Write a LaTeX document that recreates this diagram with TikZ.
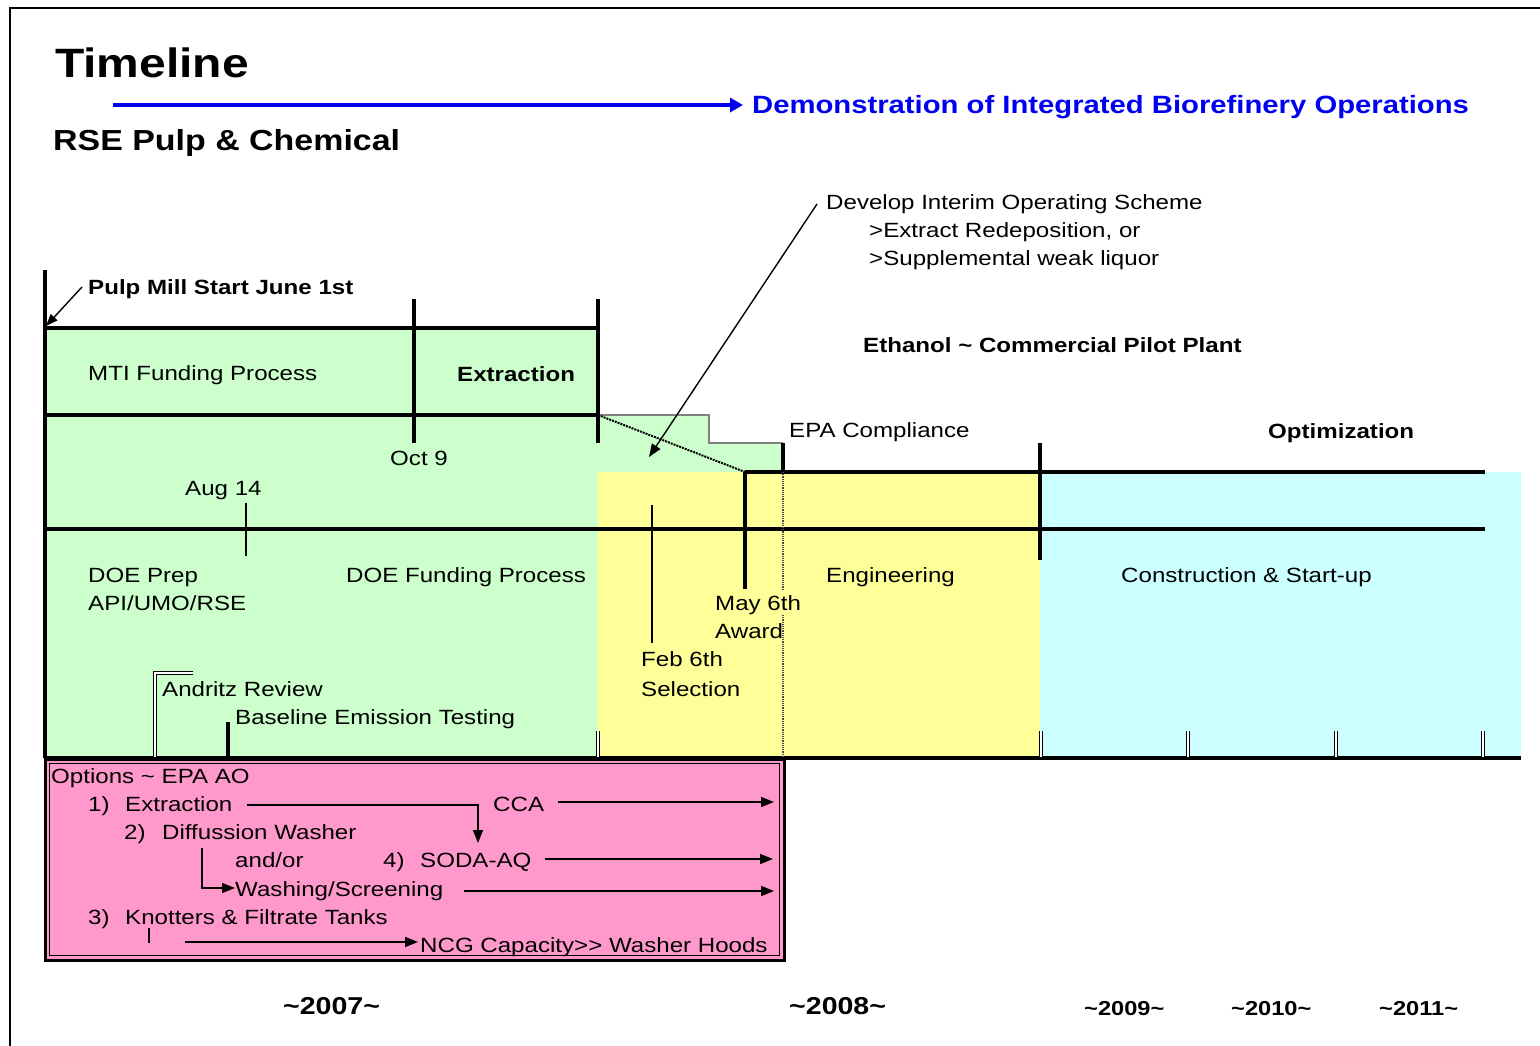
\documentclass[tikz,border=0pt]{standalone}
\usepackage{fontspec}
\setmainfont{Liberation Sans}[FakeStretch=1.17]
\usetikzlibrary{arrows.meta}
\definecolor{pgreen}{HTML}{CCFFCC}
\definecolor{pyellow}{HTML}{FFFF99}
\definecolor{pcyan}{HTML}{CCFFFF}
\definecolor{ppink}{HTML}{FF99CC}
\definecolor{dblue}{HTML}{0000F0}
\begin{document}
\begin{tikzpicture}[x=1pt,y=-1pt,
  txt/.style={anchor=base west, inner sep=0pt, font=\fontsize{20.6}{24}\selectfont},
  btxt/.style={anchor=base west, inner sep=0pt, font=\fontsize{20.6}{24}\selectfont\bfseries},
  heavy/.style={line width=3.5pt},
  slim/.style={line width=2pt},
  dbl/.style={double, double distance=1.8pt, line width=1.1pt},
  arr/.style={line width=1.6pt, -{Triangle[length=13pt,width=10pt]}},
]
\useasboundingbox (0,0) rectangle (1540,1046);
% frame
\draw[line width=2pt] (10,1046) -- (10,8) -- (1540,8);

% title block
\node[anchor=base west, inner sep=0pt, font=\fontsize{41}{45}\selectfont\bfseries] (title) at (55,78) {Timeline};
\node[anchor=base west, inner sep=0pt, font=\fontsize{29}{32}\selectfont\bfseries] (rse) at (53,151) {RSE Pulp \& Chemical};
\node[anchor=base west, inner sep=0pt, text=dblue, font=\fontsize{25}{28}\selectfont\bfseries] (demo) at (752,114) {Demonstration of Integrated Biorefinery Operations};
\coordinate (bstart) at (113,105);
\coordinate (bend) at (743,105);
\draw[dblue, line width=4.5pt, -{Triangle[length=13pt,width=14pt]}] (bstart) -- (bend);

% fills
\fill[pgreen] (45,328) -- (598,328) -- (598,415) -- (709,415) -- (709,443) -- (783,443) -- (783,472) -- (598,472) -- (598,758) -- (45,758) -- cycle;
\fill[pyellow] (598,472) rectangle (1040,758);
\fill[pcyan] (1040,472) rectangle (1521,758);
\draw[gray, line width=1.2pt] (598,415) -- (709,415) -- (709,443) -- (783,443);

% pink box
\fill[ppink] (45,759) rectangle (784,960);
\draw[line width=3pt] (45,759) rectangle (784,960);
\draw[line width=1pt] (49.5,763) rectangle (779.5,955.5);

% structure lines
\draw[heavy] (45,328) -- (598,328);
\draw[heavy] (45,415) -- (598,415);
\draw[heavy] (45,529) -- (1485,529);
\draw[heavy] (745,472) -- (1485,472);
\draw[heavy] (44,758) -- (1521,758);
\draw[heavy] (45,270) -- (45,758);
\draw[heavy] (414,299) -- (414,443);
\draw[heavy] (598,299) -- (598,443);
\draw[heavy] (745,472) -- (745,589);
\draw[heavy] (783,443) -- (783,472);
\draw[heavy] (1040,443) -- (1040,560);
\draw[slim] (652,505) -- (652,643);
\draw[slim] (246,503) -- (246,556);
\draw[line width=4pt] (228,722) -- (228,758);
\draw[densely dotted, line width=1.2pt, black!70] (783,472) -- (783,589);
\draw[densely dotted, line width=1.2pt, black!70] (783,615) -- (783,758);
\draw[densely dotted, line width=2pt] (598,415) -- (745,472);
\foreach \xx in {598,1041,1188,1336,1483}
  \draw[dbl] (\xx,731) -- (\xx,757);
\draw[dbl] (193,673) -- (155,673) -- (155,757);

% texts
\node[txt] (dev) at (826,209) {Develop Interim Operating Scheme};
\node[txt] (exr) at (869,237) {>Extract Redeposition, or};
\node[txt] (sup) at (869,265) {>Supplemental weak liquor};
\node[btxt] (pulp) at (88,294) {Pulp Mill Start June 1st};
\node[btxt] (eth) at (863,352) {Ethanol \textasciitilde{} Commercial Pilot Plant};
\node[txt] (mti) at (88,380) {MTI Funding Process};
\node[btxt] (extr) at (457,381) {Extraction};
\node[txt] (epa) at (789,437) {EPA Compliance};
\node[btxt] (opt) at (1268,438) {Optimization};
\node[txt] (oct) at (390,465) {Oct 9};
\node[txt] (aug) at (185,495) {Aug 14};
\node[txt] (doep) at (88,582) {DOE Prep};
\node[txt] (api) at (88,610) {API/UMO/RSE};
\node[txt] (doef) at (346,582) {DOE Funding Process};
\node[txt] (eng) at (826,582) {Engineering};
\node[txt] (con) at (1121,582) {Construction \& Start-up};
\node[txt] (may) at (715,610) {May 6th};
\node[txt] (awd) at (715,638) {Award};
\node[txt] (feb) at (641,666) {Feb 6th};
\node[txt] (sel) at (641,696) {Selection};
\node[txt] (andr) at (162,696) {Andritz Review};
\node[txt] (base) at (235,724) {Baseline Emission Testing};

\node[txt] (opts) at (51,783) {Options \textasciitilde{} EPA AO};
\node[txt] (n1) at (88,811) {1)};
\node[txt] (o1) at (125,811) {Extraction};
\node[txt] (cca) at (493,811) {CCA};
\node[txt] (n2) at (124,839) {2)};
\node[txt] (o2) at (162,839) {Diffussion Washer};
\node[txt] (andor) at (235,867) {and/or};
\node[txt] (n4) at (383,867) {4)};
\node[txt] (soda) at (420,867) {SODA-AQ};
\node[txt] (wash) at (235,896) {Washing/Screening};
\node[txt] (n3) at (88,924) {3)};
\node[txt] (o3) at (125,924) {Knotters \& Filtrate Tanks};
\node[txt] (ncg) at (420,952) {NCG Capacity{>}{>} Washer Hoods};

\node[anchor=base west, inner sep=0pt, font=\fontsize{24.4}{28}\selectfont\bfseries] (y7) at (283,1014) {\textasciitilde 2007\textasciitilde};
\node[anchor=base west, inner sep=0pt, font=\fontsize{24.4}{28}\selectfont\bfseries] (y8) at (789,1014) {\textasciitilde 2008\textasciitilde};
\node[anchor=base west, inner sep=0pt, font=\fontsize{20.2}{24}\selectfont\bfseries] (y9) at (1084,1015) {\textasciitilde 2009\textasciitilde};
\node[anchor=base west, inner sep=0pt, font=\fontsize{20.2}{24}\selectfont\bfseries] (y10) at (1231,1015) {\textasciitilde 2010\textasciitilde};
\node[anchor=base west, inner sep=0pt, font=\fontsize{20.2}{24}\selectfont\bfseries] (y11) at (1379,1015) {\textasciitilde 2011\textasciitilde};

% annotation arrows
\coordinate (pulpS) at (82,287);
\coordinate (pulpE) at (46,326);
\draw[line width=1.4pt, -{Triangle[length=12pt,width=9pt]}] (pulpS) -- (pulpE);
\coordinate (devS) at (817,204);
\coordinate (devE) at (649,457);
\draw[line width=1.4pt, -{Triangle[length=13pt,width=10pt]}] (devS) -- (devE);

% pink box arrows
\coordinate (a1s) at (247,805);
\coordinate (a1m) at (478,805);
\coordinate (a1e) at (478,843);
\draw[arr] (a1s) -- (a1m) -- (a1e);
\coordinate (ccaE) at (774,802);
\draw[arr] ([xshift=14pt]cca.east |- ccaE) -- (ccaE);
\coordinate (sodaE) at (773,859);
\draw[arr] ([xshift=13pt]soda.east |- sodaE) -- (sodaE);
\coordinate (washE) at (774,891);
\draw[arr] ([xshift=20pt]wash.east |- washE) -- (washE);
\coordinate (dws) at (202,848);
\coordinate (dwm) at (202,888);
\draw[arr] (dws) -- (dwm) -- (wash.west |- dwm);
\coordinate (kts) at (149,928);
\coordinate (kte) at (149,943);
\draw[line width=1.4pt] (kts) -- (kte);
\coordinate (ncgS) at (185,942);
\draw[arr] (ncgS) -- ([xshift=-2pt]ncg.west |- ncgS);
\end{tikzpicture}
\end{document}
